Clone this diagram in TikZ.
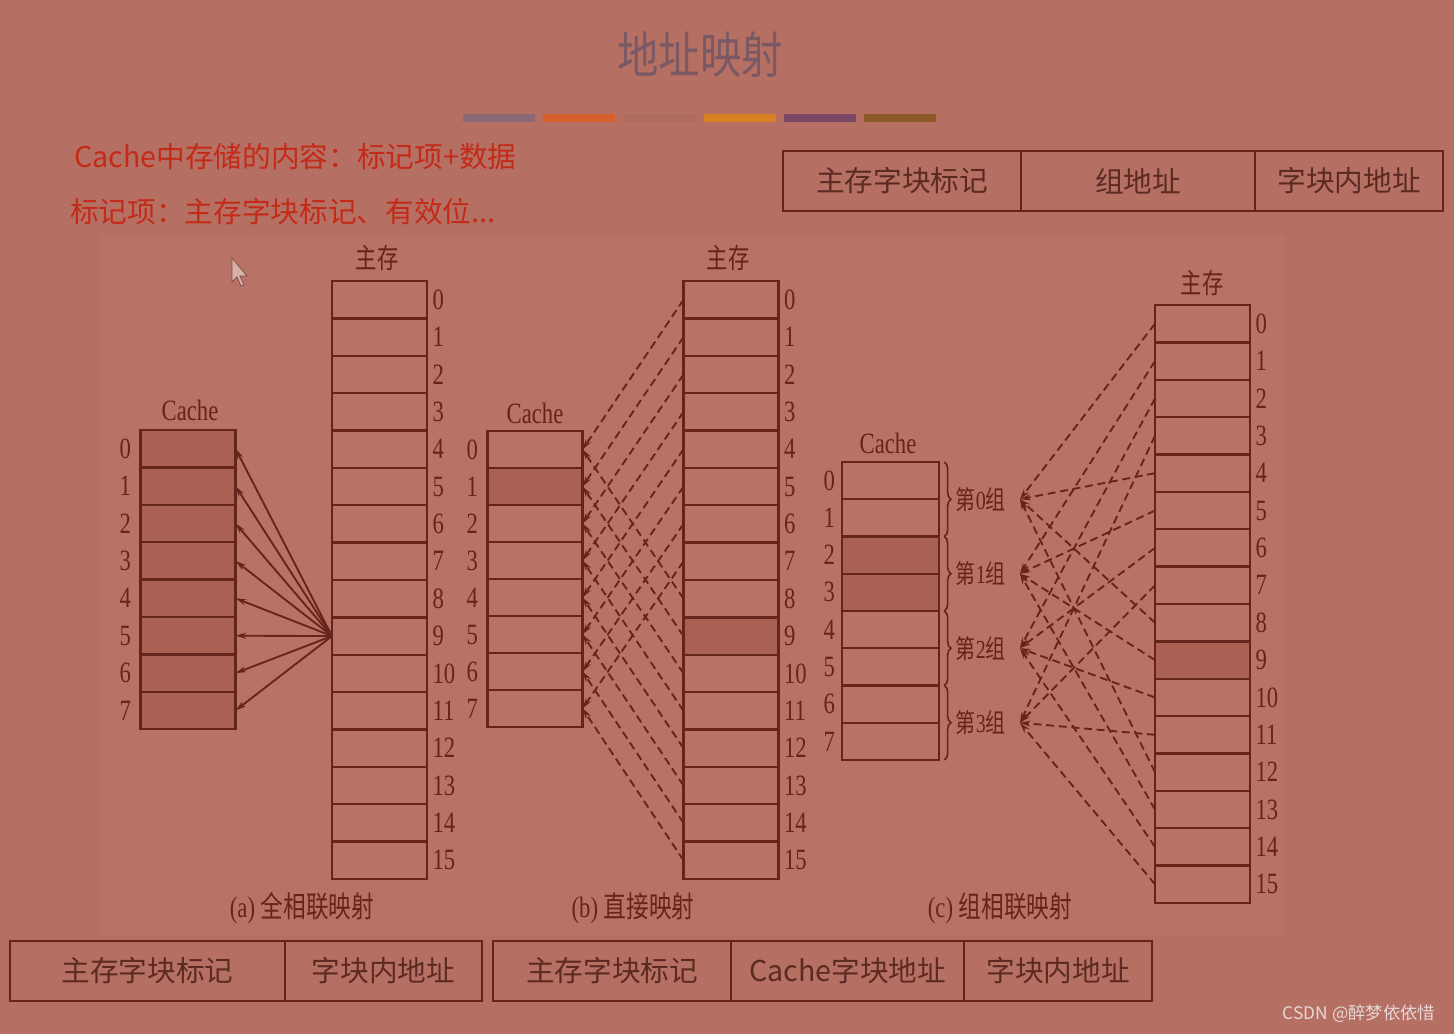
\documentclass[tikz,border=0pt]{standalone}
\usepackage{fontspec}
\setmainfont{Liberation Serif}
\newfontfamily\cjk{Noto Sans CJK SC}
\usepackage{graphicx}
\usepackage{tikz}
\usetikzlibrary{arrows.meta,positioning,decorations.pathreplacing}

\definecolor{bgC}{RGB}{182,111,99}
\definecolor{panelC}{RGB}{185,114,102}
\definecolor{lineC}{RGB}{102,36,26}
\definecolor{shadeC}{RGB}{170,97,84}
\definecolor{redC}{RGB}{196,42,24}
\definecolor{titleC}{RGB}{122,88,100}
\definecolor{textC}{RGB}{92,42,34}
\definecolor{markC}{RGB}{230,216,214}
\definecolor{barA}{RGB}{138,104,118}
\definecolor{barB}{RGB}{214,96,44}
\definecolor{barC}{RGB}{172,108,96}
\definecolor{barD}{RGB}{214,128,34}
\definecolor{barE}{RGB}{122,72,102}
\definecolor{barF}{RGB}{140,90,40}

\newcommand{\vs}[1]{\scalebox{1}[1.3]{#1}}

\begin{document}
\begin{tikzpicture}[
    x=0.75pt, y=-0.75pt,
    cellbox/.style={rectangle, draw=lineC, line width=1.7pt,
                    minimum width=71.25pt, minimum height=28.05pt,
                    inner sep=0pt, outer sep=0pt},
    shaded/.style={fill=shadeC},
    idx/.style={font=\fontsize{17}{20}\selectfont, text=lineC, inner sep=1pt},
    lbl/.style={font=\fontsize{17}{20}\selectfont, text=lineC, inner sep=1pt},
    cjklbl/.style={font=\cjk\fontsize{16}{20}\selectfont, text=lineC, inner sep=1pt},
    captxt/.style={font=\fontsize{17}{20}\selectfont, text=lineC},
    grp/.style={font=\fontsize{15}{18}\selectfont, text=lineC, inner sep=1pt},
    field/.style={rectangle, draw=lineC, line width=1.7pt, minimum height=45pt,
                  inner sep=0pt, outer sep=0pt, text=textC,
                  font=\cjk\fontsize{21.5}{26}\selectfont},
    redtxt/.style={font=\cjk\fontsize{21.5}{26}\selectfont, text=redC, inner sep=0pt},
    solidarr/.style={draw=lineC, line width=1.4pt, -{Stealth[length=8pt,width=4.5pt]}},
    dasharr/.style={draw=lineC, line width=1.4pt, dash pattern=on 6pt off 3.5pt,
                    -{Stealth[length=8pt,width=4.5pt]}},
    brace/.style={draw=lineC, line width=1.2pt, decorate,
                  decoration={brace, amplitude=5pt}},
]
\useasboundingbox (0,0) rectangle (1454,1034);
\fill[bgC] (0,0) rectangle (1454,1034);
\fill[panelC] (100,235) rectangle (1285,935);

% Title and colour bars
\node[font=\cjk\fontsize{31}{36}\selectfont, text=titleC] (title) at (700,55) {\scalebox{1}[1.2]{地址映射}};
\foreach \c/\x in {barA/463, barB/543, barC/624, barD/704, barE/784, barF/864}
  \fill[\c] (\x,114) rectangle ++(72,8);

% Red notes
\node[redtxt, anchor=west] (noteone) at (74,157) {Cache中存储的内容：标记项+数据};
\node[redtxt, anchor=west] (notetwo) at (70,212) {标记项：主存字块标记、有效位...};

% Address format, set associative
\node[field, minimum width=178.5pt] (fs1) at (902,181) {主存字块标记};
\node[field, minimum width=175.5pt, right=0pt of fs1] (fs2) {组地址};
\node[field, minimum width=141pt, right=0pt of fs2] (fs3) {字块内地址};

% Cursor
\draw[line width=0.6pt, draw=lineC!80, fill=bgC!55!white] (232,258) -- (232,282) -- (237,277)
  -- (241,286) -- (244,285) -- (240,276) -- (247,276) -- cycle;

% (a) fully associative
\node[lbl] (cachea) at (190,410) {\vs{Cache}};
\foreach \i in {0,...,7} {
  \node[cellbox, shaded] (ca\i) at (188,448.7+37.4*\i) {};
  \node[idx, anchor=east] (la\i) at ([xshift=-6pt]ca\i.west) {\vs{\i}};
}
\node[cjklbl] (mema) at (377,258) {\vs{主存}};
\foreach \j in {0,...,15} {
  \node[cellbox] (ma\j) at (379.5,299.7+37.375*\j) {};
  \node[idx, anchor=west] (lma\j) at ([xshift=3pt]ma\j.east) {\vs{\j}};
}
\foreach \i in {0,...,7}
  \draw[solidarr] (ma9.west) -- (ca\i.east);
\node[captxt] (capa) at (302,908) {\vs{(a) {\cjk 全相联映射}}};

% (b) direct mapping
\node[lbl] (cacheb) at (535,413) {\vs{Cache}};
\foreach \i in {0,...,7} {
  \node[cellbox, minimum height=27.75pt] (cb\i) at (535,449.5+37*\i) {};
  \node[idx, anchor=east] (lb\i) at ([xshift=-6pt]cb\i.west) {\vs{\i}};
}
\node[cellbox, shaded, minimum height=27.75pt] at (cb1) {};
\node[cjklbl] (memb) at (728,258) {\vs{主存}};
\foreach \j in {0,...,15} {
  \node[cellbox] (mb\j) at (731,299.7+37.375*\j) {};
  \node[idx, anchor=west] (lmb\j) at ([xshift=3pt]mb\j.east) {\vs{\j}};
}
\node[cellbox, shaded] at (mb9) {};
\foreach \j in {0,...,15} {
  \pgfmathtruncatemacro{\k}{mod(\j,8)}
  \draw[dasharr] (mb\j.west) -- (cb\k.east);
}
\node[captxt] (capb) at (633,908) {\vs{(b) {\cjk 直接映射}}};

% (c) set associative
\node[lbl] (cachec) at (888,443) {\vs{Cache}};
\foreach \i in {0,...,7} {
  \node[cellbox, minimum width=72.75pt, minimum height=27.94pt] (cc\i) at (890.5,480.6+37.25*\i) {};
  \node[idx, anchor=east] (lc\i) at ([xshift=-4pt]cc\i.west) {\vs{\i}};
}
\node[cellbox, shaded, minimum width=72.75pt, minimum height=27.94pt] at (cc2) {};
\node[cellbox, shaded, minimum width=72.75pt, minimum height=27.94pt] at (cc3) {};
\foreach \g/\a/\b in {0/0/1, 1/2/3, 2/4/5, 3/6/7}
  \draw[brace] ([xshift=4pt]cc\a.north east) -- node[grp, right=7pt] (g\g)
    {\vs{{\cjk 第}\g{\cjk 组}}} ([xshift=4pt]cc\b.south east);
\node[cjklbl] (memc) at (1202,283) {\vs{主存}};
\foreach \j in {0,...,15} {
  \node[cellbox] (mc\j) at (1202.5,323.7+37.375*\j) {};
  \node[idx, anchor=west] (lmc\j) at ([xshift=3pt]mc\j.east) {\vs{\j}};
}
\node[cellbox, shaded] at (mc9) {};
\foreach \j in {0,...,15} {
  \pgfmathtruncatemacro{\k}{mod(\j,4)}
  \draw[dasharr] (mc\j.west) -- ([xshift=9pt]g\k.east);
}
\node[captxt] (capc) at (1000,908) {\vs{(c) {\cjk 组相联映射}}};

% Address formats, fully associative and direct
\node[field, minimum width=206.25pt] (ff1) at (147.5,971) {主存字块标记};
\node[field, minimum width=147.75pt, right=0pt of ff1] (ff2) {字块内地址};
\node[field, minimum width=178.5pt] (fd1) at (612,971) {主存字块标记};
\node[field, minimum width=174.75pt, right=0pt of fd1] (fd2) {Cache字块地址};
\node[field, minimum width=141pt, right=0pt of fd2] (fd3) {字块内地址};

% Watermark
\node[font=\cjk\fontsize{13}{15}\selectfont, text=markC, anchor=east] (mark) at (1440,1014) {CSDN @醉梦依依惜};
\end{tikzpicture}
\end{document}
